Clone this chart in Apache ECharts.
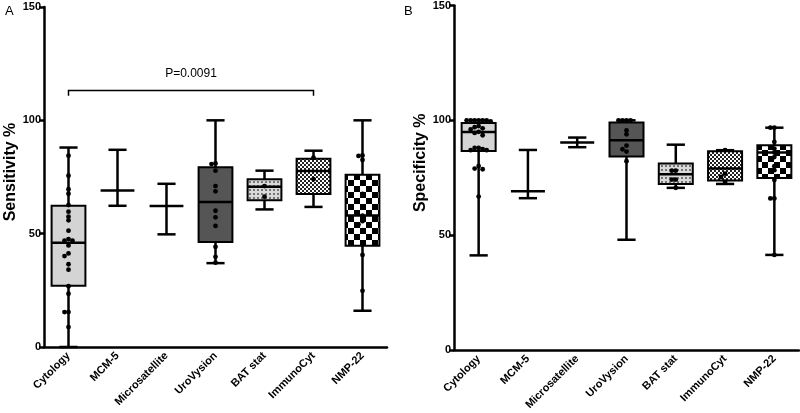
<!DOCTYPE html>
<html><head><meta charset="utf-8">
<script src="https://cdn.jsdelivr.net/npm/echarts@6/dist/echarts.min.js"></script>
<style>html,body{margin:0;padding:0;background:#fff}#c{width:800px;height:413px}</style>
</head><body><div id="c"></div>
<script>
const categories = ['Cytology','MCM-5','Microsatellite','UroVysion','BAT stat','ImmunoCyt','NMP-22'];
const yTicks = [0, 50, 100, 150];
const panelLabels = ['A', 'B'];
const axisNames = ['Sensitivity %', 'Specificity %'];
// [low, q1, median, q3, high]; range-only tests have q1 = q3 = null
const sensBox = [
  [0, 27, 46, 62.3, 88],
  [62.3, null, 69, null, 87],
  [49.7, null, 62.2, null, 72],
  [37, 46.3, 64, 79.3, 100],
  [60.7, 64.7, 70.7, 74, 77.8],
  [61.8, 67.5, 77.6, 83, 86.6],
  [16, 44.7, 58, 76, 100]
];
const sensPoints = [
  [84.4, 75.6, 69.6, 67.6, 62.6, 59.7, 57.5, 55.9, 51.3, 47.6, 46.9, 46.9, 44.8, 41.3, 40.1, 36.5, 34.1, 26.8, 23.5, 15.4, 15.4, 8.8],
  [],
  [],
  [81, 80.7, 77.8, 71, 68.7, 60.1, 57.2, 53.4, 44.2, 39.8, 37.2],
  [71, 66.3],
  [83.5, 74],
  [84.5, 84.3, 82.5, 72.5, 67.5, 61.8, 58, 55.5, 54, 51.6, 40.6, 24.8]
];
const specBox = [
  [41.2, 86.7, 94.9, 98.8, 100],
  [66.1, null, 69.1, null, 87.1],
  [88.3, null, 90.3, null, 92.5],
  [48, 84.3, 91.3, 99.1, 100],
  [70.6, 72.3, 76.5, 81.2, 89.4],
  [72.3, 73.8, 79, 86.5, 87],
  [41.4, 74.9, 86, 89.1, 96.8]
];
const specPoints = [
  [100, 100, 100, 100, 100, 100, 99.5, 97.5, 97, 96.5, 96, 95, 94.5, 93.5, 88, 88, 87.5, 87, 87, 80.1, 79, 78.7, 66.8],
  [],
  [],
  [100, 100, 100, 100, 95.6, 93.9, 89, 87.4, 86.4, 82.2],
  [78.1, 78.1, 74.2, 74.2, 70.6],
  [87, 76.8, 75.4, 73.2],
  [96.8, 96.8, 90.6, 87.7, 86, 84, 80, 78.3, 74, 66, 66, 41.4]
];
const bracket = { from: 0, to: 5, y: 113.2, drop: 110.9, textY: 120.5, label: 'P=0.0091' };

// ---------- fill patterns ----------
function makeCanvas(size, draw) {
  const c = document.createElement('canvas');
  c.width = size; c.height = size;
  draw(c.getContext('2d'), size);
  return c;
}
const patDots = makeCanvas(4, (g, s) => { g.fillStyle = '#d9d9d9'; g.fillRect(0,0,s,s); g.fillStyle = '#777'; g.fillRect(1,1,2,2); });
const patFine = makeCanvas(4, (g, s) => { g.fillStyle = '#fff'; g.fillRect(0,0,s,s); g.fillStyle = '#222'; g.fillRect(0,0,2,2); g.fillRect(2,2,2,2); });
const patCheck = makeCanvas(12, (g, s) => { g.fillStyle = '#fff'; g.fillRect(0,0,s,s); g.fillStyle = '#000'; g.fillRect(0,0,6,6); g.fillRect(6,6,6,6); });
const fills = [
  '#d4d4d4', '#fff', '#fff', '#555555',
  { image: patDots, repeat: 'repeat' },
  { image: patFine, repeat: 'repeat' },
  { image: patCheck, repeat: 'repeat' }
];

function boxData(rows) {
  return rows.map((r, i) => {
    const range = r[1] === null ? 1 : 0;
    return [i, r[0], range ? r[2] : r[1], r[2], range ? r[2] : r[3], r[4], range];
  });
}
// deterministic beeswarm slot assignment
function pointData(groups) {
  const out = [];
  groups.forEach((vals, i) => {
    const placed = [];
    vals.slice().sort((a, b) => b - a).forEach(v => {
      const slots = [0, -1, 1, -2, 2, -3, 3];
      let slot = 0;
      for (const s of slots) {
        if (!placed.some(p => p.s === s && Math.abs(p.v - v) < 1.6)) { slot = s; break; }
      }
      placed.push({ s: slot, v: v });
      out.push([i, v, slot]);
    });
  });
  return out;
}

const LW = 2.5;
function renderBox(params, api) {
  const i = api.value(0);
  const low = api.value(1), q1 = api.value(2), med = api.value(3), q3 = api.value(4), high = api.value(5);
  const range = api.value(6);
  const band = api.size([1, 0])[0];
  const cx = api.coord([i, 0])[0];
  const Y = v => api.coord([i, v])[1];
  const bw = band * 0.69, cw = band * 0.37;
  const st = { stroke: '#000', lineWidth: LW, fill: null };
  const line = (x1, y1, x2, y2) => ({ type: 'line', shape: { x1, y1, x2, y2 }, style: st });
  const ch = [];
  if (range) {
    ch.push(line(cx, Y(low), cx, Y(high)));
    ch.push(line(cx - cw / 2, Y(low), cx + cw / 2, Y(low)));
    ch.push(line(cx - cw / 2, Y(high), cx + cw / 2, Y(high)));
    ch.push(line(cx - bw / 2, Y(med), cx + bw / 2, Y(med)));
  } else {
    ch.push(line(cx, Y(low), cx, Y(q1)));
    ch.push(line(cx, Y(q3), cx, Y(high)));
    ch.push(line(cx - cw / 2, Y(low), cx + cw / 2, Y(low)));
    ch.push(line(cx - cw / 2, Y(high), cx + cw / 2, Y(high)));
    ch.push({ type: 'rect', shape: { x: cx - bw / 2, y: Y(q3), width: bw, height: Y(q1) - Y(q3) },
      style: { fill: fills[i], stroke: '#000', lineWidth: 2 } });
    ch.push(line(cx - bw / 2, Y(med), cx + bw / 2, Y(med)));
  }
  return { type: 'group', children: ch };
}
function renderPoint(params, api) {
  const p = api.coord([api.value(0), api.value(1)]);
  return { type: 'circle', shape: { cx: p[0] + api.value(2) * 4, cy: p[1], r: 2.4 }, style: { fill: '#000' } };
}
function renderBracket(params, api) {
  const a = api.coord([api.value(0), api.value(2)]);
  const b = api.coord([api.value(1), api.value(2)]);
  const d = api.coord([api.value(0), api.value(3)])[1];
  const t = api.coord([api.value(0), api.value(4)])[1];
  return { type: 'group', children: [
    { type: 'polyline', shape: { points: [[a[0], d], [a[0], a[1]], [b[0], b[1]], [b[0], d]] }, style: { stroke: '#000', lineWidth: 1.5, fill: null } },
    { type: 'text', x: (a[0] + b[0]) / 2, y: t, style: { text: bracket.label, fill: '#000', font: '12px "Liberation Sans", Arial, sans-serif', align: 'center', verticalAlign: 'middle' } }
  ] };
}

const font = '"Liberation Sans", Arial, sans-serif';
function xAxis(g) {
  return { gridIndex: g, type: 'category', data: categories, boundaryGap: true,
    axisLine: { lineStyle: { color: '#000', width: LW } },
    axisTick: { alignWithLabel: true, length: 5, lineStyle: { color: '#000', width: LW } },
    axisLabel: { interval: 0, rotate: 45, margin: 7, color: '#000', fontWeight: 'bold', fontSize: 11, fontFamily: font },
    splitLine: { show: false } };
}
function yAxis(g, gap, shiftUp) {
  return { gridIndex: g, type: 'value', min: yTicks[0], max: yTicks[yTicks.length - 1], interval: 50,
    name: axisNames[g], nameLocation: 'middle', nameGap: gap,
    nameTextStyle: { color: '#000', fontWeight: 'bold', fontSize: 16, fontFamily: font, padding: [0, 0, 0, shiftUp * 2] },
    axisLine: { show: true, lineStyle: { color: '#000', width: LW } },
    axisTick: { show: true, length: 5, lineStyle: { color: '#000', width: LW } },
    axisLabel: { margin: 3, color: '#000', fontWeight: 'bold', fontSize: 11, fontFamily: font },
    splitLine: { show: false } };
}

const chart = echarts.init(document.getElementById('c'), null, { renderer: 'canvas' });
chart.setOption({
  animation: false,
  backgroundColor: '#fff',
  grid: [
    { left: 44, top: 7, width: 343, height: 340 },
    { left: 454, top: 5, width: 345, height: 345 }
  ],
  xAxis: [xAxis(0), xAxis(1)],
  yAxis: [yAxis(0, 20, 5), yAxis(1, 17, 15)],
  graphic: [
    { type: 'text', left: 5, top: 5, style: { text: panelLabels[0], fill: '#000', font: '13px ' + font } },
    { type: 'text', left: 404, top: 5, style: { text: panelLabels[1], fill: '#000', font: '13px ' + font } }
  ],
  series: [
    { type: 'custom', xAxisIndex: 0, yAxisIndex: 0, renderItem: renderBox, data: boxData(sensBox), z: 2 },
    { type: 'custom', xAxisIndex: 0, yAxisIndex: 0, renderItem: renderPoint, data: pointData(sensPoints), z: 3 },
    { type: 'custom', xAxisIndex: 0, yAxisIndex: 0, renderItem: renderBracket,
      data: [[bracket.from, bracket.to, bracket.y, bracket.drop, bracket.textY]], z: 3 },
    { type: 'custom', xAxisIndex: 1, yAxisIndex: 1, renderItem: renderBox, data: boxData(specBox), z: 2 },
    { type: 'custom', xAxisIndex: 1, yAxisIndex: 1, renderItem: renderPoint, data: pointData(specPoints), z: 3 }
  ]
});
</script></body></html>
